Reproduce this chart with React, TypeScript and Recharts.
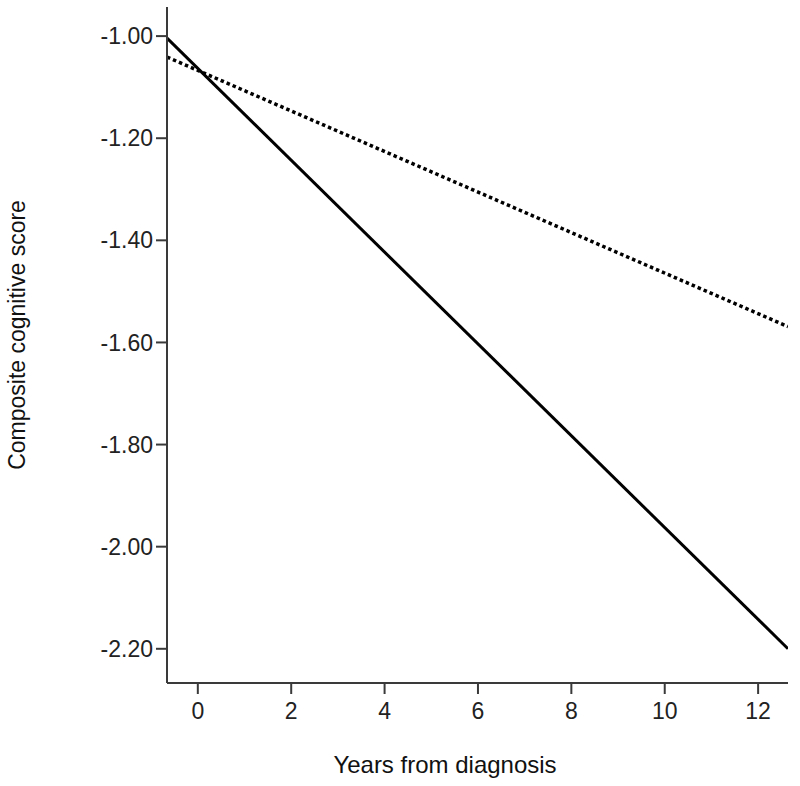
import React from "react";
import { LineChart, Line, XAxis, YAxis, Label } from "recharts";

const solidSeries = [
  { x: -0.66, y: -1.004 },
  { x: 12.64, y: -2.2 },
];
const dottedSeries = [
  { x: -0.66, y: -1.041 },
  { x: 12.64, y: -1.569 },
];
const xTicks = [0, 2, 4, 6, 8, 10, 12];
const yTicks = [-1.0, -1.2, -1.4, -1.6, -1.8, -2.0, -2.2];
const xTitle = "Years from diagnosis";
const yTitle = "Composite cognitive score";

const AXIS = "#3a3a3a";
const TEXT = "#222222";
const FONT = "'Liberation Sans', Arial, sans-serif";

export default function App() {
  return (
    <div style={{ position: "absolute", left: 0, top: 0, background: "#fff" }}>
      <LineChart
        width={800}
        height={786}
        margin={{ top: 7, right: 12, left: 0, bottom: 0 }}
      >
        <XAxis
          type="number"
          dataKey="x"
          domain={[-0.66, 12.64]}
          allowDataOverflow
          ticks={xTicks}
          height={103}
          stroke={AXIS}
          strokeWidth={2}
          tickSize={11}
          tickMargin={9}
          tick={{ fill: TEXT, fontSize: 23, fontFamily: FONT }}
        >
          <Label
            content={() => (
              <text
                x={445}
                y={773}
                textAnchor="middle"
                fill="#111"
                fontSize={24}
                fontFamily={FONT}
              >
                {xTitle}
              </text>
            )}
          />
        </XAxis>
        <YAxis
          type="number"
          domain={[-2.267, -0.943]}
          allowDataOverflow
          ticks={yTicks}
          width={167}
          stroke={AXIS}
          strokeWidth={2}
          tickSize={11}
          tickMargin={3}
          tickFormatter={(v: number) => v.toFixed(2)}
          tick={{ fill: TEXT, fontSize: 23, fontFamily: FONT }}
        >
          <Label
            content={() => (
              <text
                x={0}
                y={0}
                transform="translate(25,335) rotate(-90)"
                textAnchor="middle"
                fill="#111"
                fontSize={23}
                fontFamily={FONT}
              >
                {yTitle}
              </text>
            )}
          />
        </YAxis>
        <Line
          data={solidSeries}
          dataKey="y"
          type="linear"
          stroke="#000"
          strokeWidth={3}
          dot={false}
          activeDot={false}
          isAnimationActive={false}
        />
        <Line
          data={dottedSeries}
          dataKey="y"
          type="linear"
          stroke="#000"
          strokeWidth={3.5}
          strokeDasharray="3.5 3"
          dot={false}
          activeDot={false}
          isAnimationActive={false}
        />
      </LineChart>
    </div>
  );
}
